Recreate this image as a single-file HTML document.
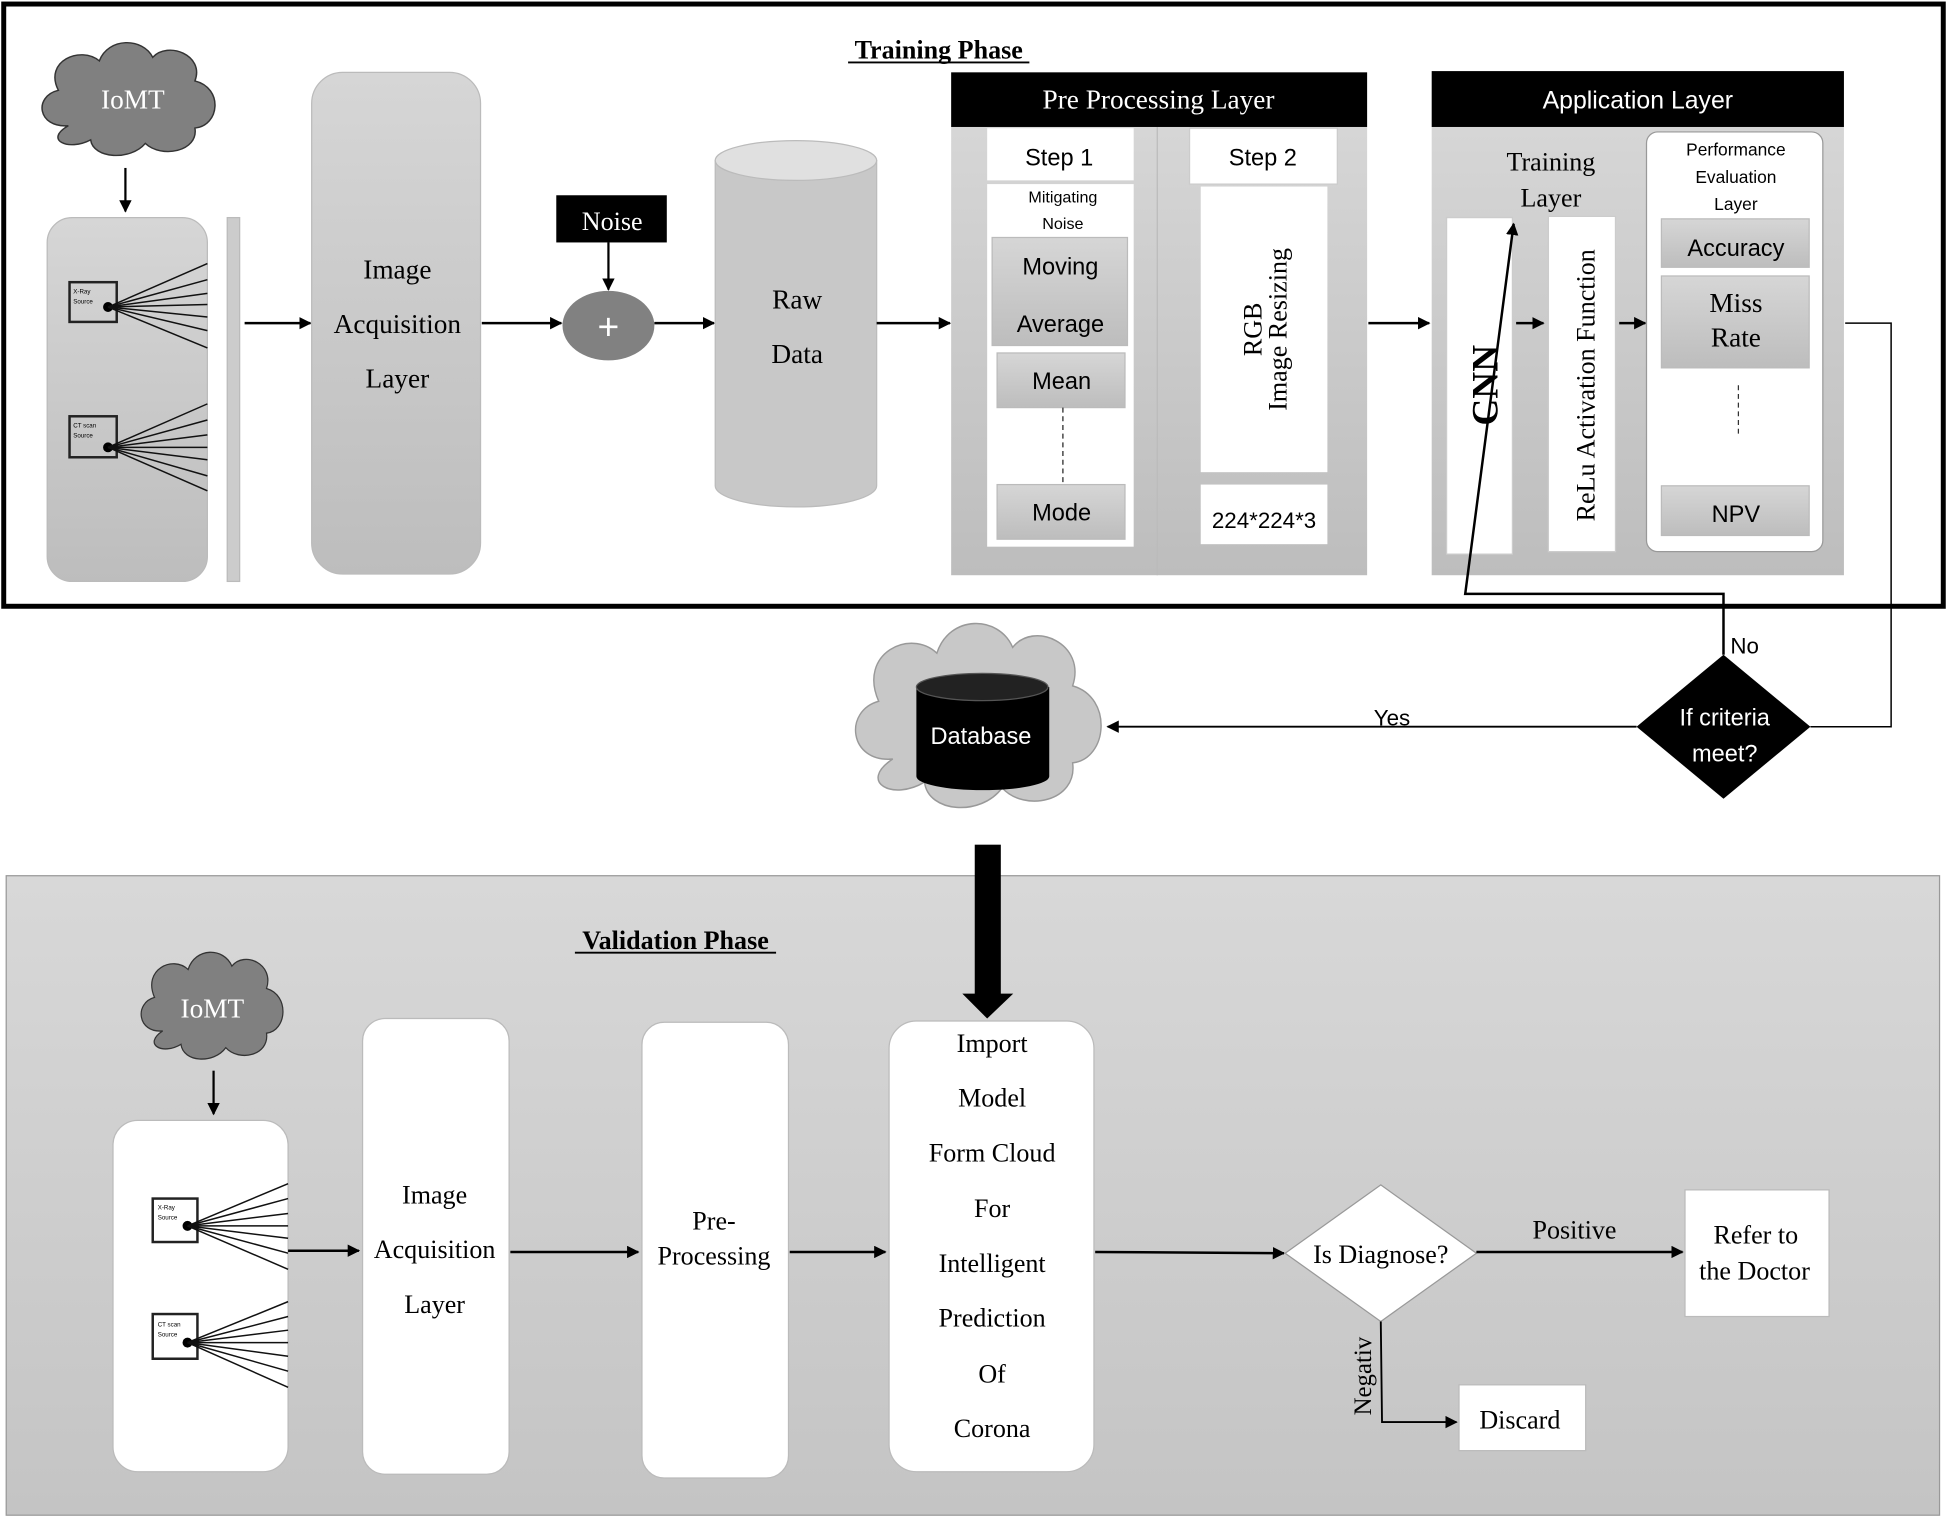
<!DOCTYPE html>
<html><head><meta charset="utf-8"><style>html,body{margin:0;padding:0;background:#fff}svg{display:block}</style></head><body>
<svg width="1947" height="1518" viewBox="0 0 1568 1222" xmlns="http://www.w3.org/2000/svg" font-family="Liberation Serif, serif">
<defs>
<linearGradient id="g" x1="0" y1="0" x2="0" y2="1"><stop offset="0" stop-color="#d6d6d6"/><stop offset="1" stop-color="#bdbdbd"/></linearGradient>
<linearGradient id="vg" x1="0" y1="0" x2="0" y2="1"><stop offset="0" stop-color="#d8d8d8"/><stop offset="1" stop-color="#c4c4c4"/></linearGradient>
<marker id="a" markerWidth="10" markerHeight="10" refX="9" refY="5" orient="auto" markerUnits="userSpaceOnUse"><path d="M0,0 L10,5 L0,10 z" fill="#000"/></marker>
<g id="cloud"><path d="M-50,20 C-75,22 -78,-5 -58,-10 C-70,-35 -40,-48 -25,-35 C-18,-55 10,-55 18,-38 C30,-52 60,-40 52,-18 C75,-12 72,20 52,22 C55,42 25,48 12,35 C0,50 -30,48 -32,32 C-50,42 -70,32 -50,20 z"/></g>
</defs>
<rect x="3" y="3" width="1562" height="485" fill="#fff" stroke="#000" stroke-width="4"/>
<text x="756" y="47" font-size="21" font-weight="bold" text-anchor="middle">Training Phase</text>
<line x1="683" y1="50" x2="829" y2="50" stroke="#000" stroke-width="1.5"/>
<use href="#cloud" transform="translate(105,82) scale(1.0,0.95)" fill="#808080" stroke="#333" stroke-width="1.2"/>
<text x="107" y="87" font-size="22" fill="#fff" text-anchor="middle">IoMT</text>
<line x1="101" y1="135" x2="101" y2="170" stroke="#000" stroke-width="1.8" marker-end="url(#a)"/>
<rect x="38" y="175" width="129" height="293" rx="20" fill="url(#g)" stroke="#bbb"/>
<rect x="56" y="227" width="38" height="32" fill="none" stroke="#222" stroke-width="2"/>
<text x="59" y="236" font-size="5" font-family="Liberation Sans,sans-serif">X-Ray</text><text x="59" y="244" font-size="5" font-family="Liberation Sans,sans-serif">Source</text>
<circle cx="87" cy="247" r="4" fill="#000"/>
<g stroke="#111" stroke-width="1.2"><line x1="87" y1="247" x2="167" y2="212"/><line x1="87" y1="247" x2="167" y2="225"/><line x1="87" y1="247" x2="167" y2="236"/><line x1="87" y1="247" x2="167" y2="245"/><line x1="87" y1="247" x2="167" y2="255"/><line x1="87" y1="247" x2="167" y2="266"/><line x1="87" y1="247" x2="167" y2="280"/></g>
<rect x="56" y="335" width="38" height="33" fill="none" stroke="#222" stroke-width="2"/>
<text x="59" y="344" font-size="5" font-family="Liberation Sans,sans-serif">CT scan</text><text x="59" y="352" font-size="5" font-family="Liberation Sans,sans-serif">Source</text>
<circle cx="87" cy="360" r="4" fill="#000"/>
<g stroke="#111" stroke-width="1.2"><line x1="87" y1="360" x2="167" y2="325"/><line x1="87" y1="360" x2="167" y2="338"/><line x1="87" y1="360" x2="167" y2="350"/><line x1="87" y1="360" x2="167" y2="360"/><line x1="87" y1="360" x2="167" y2="370"/><line x1="87" y1="360" x2="167" y2="383"/><line x1="87" y1="360" x2="167" y2="395"/></g>
<rect x="183" y="175" width="10" height="293" fill="#ccc" stroke="#bbb"/>
<line x1="197" y1="260" x2="250" y2="260" stroke="#000" stroke-width="2" marker-end="url(#a)"/>
<rect x="251" y="58" width="136" height="404" rx="25" fill="url(#g)" stroke="#bbb"/>
<g font-size="22" text-anchor="middle"><text x="320" y="224">Image</text><text x="320" y="268">Acquisition</text><text x="320" y="312">Layer</text></g>
<line x1="388" y1="260" x2="452" y2="260" stroke="#000" stroke-width="2" marker-end="url(#a)"/>
<ellipse cx="490" cy="262" rx="37" ry="28" fill="#818181"/>
<text x="490" y="273" font-size="30" fill="#fff" text-anchor="middle" font-family="Liberation Sans,sans-serif">+</text>
<rect x="448" y="157" width="89" height="38" fill="#000"/>
<text x="493" y="185" font-size="21" fill="#fff" text-anchor="middle">Noise</text>
<line x1="490" y1="195" x2="490" y2="233" stroke="#000" stroke-width="1.8" marker-end="url(#a)"/>
<line x1="527" y1="260" x2="575" y2="260" stroke="#000" stroke-width="2" marker-end="url(#a)"/>
<path d="M576,129 L576,391 A65,17 0 0 0 706,391 L706,129 z" fill="#c8c8c8" stroke="#bbb"/>
<ellipse cx="641" cy="129" rx="65" ry="16" fill="#e0e0e0" stroke="#bbb"/>
<g font-size="22" text-anchor="middle"><text x="642" y="248">Raw</text><text x="642" y="292">Data</text></g>
<line x1="706" y1="260" x2="765" y2="260" stroke="#000" stroke-width="2" marker-end="url(#a)"/>
<rect x="766" y="102" width="335" height="361" fill="url(#g)"/>
<line x1="932" y1="102" x2="932" y2="463" stroke="#bbb"/>
<rect x="766" y="58" width="335" height="44" fill="#000"/>
<text x="933" y="87" font-size="22" fill="#fff" text-anchor="middle">Pre Processing Layer</text>
<g font-family="Liberation Sans,sans-serif" text-anchor="middle">
<rect x="795" y="103" width="118" height="42" fill="#fff"/><text x="853" y="133" font-size="19">Step 1</text>
<rect x="795" y="148" width="118" height="292" fill="#fff"/>
<text x="856" y="163" font-size="13">Mitigating</text><text x="856" y="184" font-size="13">Noise</text>
<rect x="799" y="191" width="109" height="87" fill="url(#g)" stroke="#bbb"/>
<text x="854" y="221" font-size="19">Moving</text><text x="854" y="267" font-size="19">Average</text>
<rect x="803" y="284" width="103" height="44" fill="url(#g)" stroke="#bbb"/><text x="855" y="313" font-size="19">Mean</text>
<line x1="856" y1="328" x2="856" y2="388" stroke="#222" stroke-dasharray="4,3"/>
<rect x="803" y="390" width="103" height="44" fill="url(#g)" stroke="#bbb"/><text x="855" y="419" font-size="19">Mode</text>
<rect x="958" y="103" width="119" height="45" fill="#fff" stroke="#ccc"/><text x="1017" y="133" font-size="19">Step 2</text>
<rect x="967" y="150" width="102" height="230" fill="#fff"/>
<rect x="967" y="390" width="102" height="48" fill="#fff"/><text x="1018" y="425" font-size="18">224*224*3</text>
</g>
<g transform="translate(1016,265) rotate(-90)" text-anchor="middle" font-size="21"><text x="0" y="0">RGB</text><text x="0" y="20">Image Resizing</text></g>
<line x1="1102" y1="260" x2="1151" y2="260" stroke="#000" stroke-width="2" marker-end="url(#a)"/>
<rect x="1153" y="102" width="332" height="361" fill="url(#g)"/>
<rect x="1153" y="57" width="332" height="45" fill="#000"/>
<text x="1319" y="87" font-size="20" fill="#fff" text-anchor="middle" font-family="Liberation Sans,sans-serif">Application Layer</text>
<g font-size="21" text-anchor="middle"><text x="1249" y="137">Training</text><text x="1249" y="166">Layer</text></g>
<rect x="1165" y="175" width="53" height="271" fill="#fff" stroke="#ccc"/>
<text transform="translate(1206,310) rotate(-90)" font-size="30" font-weight="bold" text-anchor="middle">CNN</text>
<rect x="1247" y="174" width="54" height="270" fill="#fff" stroke="#ccc"/>
<text transform="translate(1284,310) rotate(-90)" font-size="21" text-anchor="middle">ReLu Activation Function</text>
<line x1="1221" y1="260" x2="1243" y2="260" stroke="#000" stroke-width="2" marker-end="url(#a)"/>
<line x1="1304" y1="260" x2="1325" y2="260" stroke="#000" stroke-width="2" marker-end="url(#a)"/>
<rect x="1326" y="106" width="142" height="338" rx="9" fill="#fff" stroke="#999"/>
<g font-family="Liberation Sans,sans-serif" text-anchor="middle" font-size="14"><text x="1398" y="125">Performance</text><text x="1398" y="147">Evaluation</text><text x="1398" y="169">Layer</text></g>
<rect x="1338" y="176" width="119" height="39" fill="url(#g)" stroke="#bbb"/><text x="1398" y="206" font-size="19" text-anchor="middle" font-family="Liberation Sans,sans-serif">Accuracy</text>
<rect x="1338" y="222" width="119" height="74" fill="url(#g)" stroke="#bbb"/>
<g font-size="22" text-anchor="middle"><text x="1398" y="251">Miss</text><text x="1398" y="279">Rate</text></g>
<line x1="1400" y1="310" x2="1400" y2="350" stroke="#333" stroke-dasharray="4,3"/>
<rect x="1338" y="391" width="119" height="40" fill="url(#g)" stroke="#bbb"/><text x="1398" y="420" font-size="19" text-anchor="middle" font-family="Liberation Sans,sans-serif">NPV</text>
<polyline points="1486,260 1523,260 1523,585 1458,585" fill="none" stroke="#000" stroke-width="1.2"/>
<polyline points="1388,527 1388,478 1180,478 1219,180" fill="none" stroke="#000" stroke-width="2" marker-end="url(#a)"/>
<text x="1405" y="526" font-size="18" text-anchor="middle" font-family="Liberation Sans,sans-serif">No</text>
<polygon points="1388,527 1458,585 1388,643 1318,585" fill="#000"/>
<g font-family="Liberation Sans,sans-serif" fill="#fff" font-size="19" text-anchor="middle"><text x="1389" y="584">If criteria</text><text x="1389" y="613">meet?</text></g>
<line x1="1318" y1="585" x2="892" y2="585" stroke="#000" stroke-width="1.5" marker-end="url(#a)"/>
<text x="1121" y="584" font-size="18" text-anchor="middle" font-family="Liberation Sans,sans-serif">Yes</text>
<use href="#cloud" transform="translate(790,580) scale(1.42,1.55)" fill="#c8c8c8" stroke="#999" stroke-width="0.8"/>
<path d="M738,553 L738,625 A53,11 0 0 0 845,625 L845,553 z" fill="#000"/>
<ellipse cx="791" cy="553" rx="53" ry="11" fill="#222" stroke="#555"/>
<text x="790" y="599" font-size="19" fill="#fff" text-anchor="middle" font-family="Liberation Sans,sans-serif">Database</text>
<rect x="5" y="705" width="1557" height="515" fill="url(#vg)" stroke="#999"/>
<rect x="785" y="680" width="21" height="122" fill="#000"/>
<polygon points="775,800 816,800 795,820" fill="#000"/>
<text x="544" y="764" font-size="21" font-weight="bold" text-anchor="middle">Validation Phase</text>
<line x1="463" y1="767" x2="625" y2="767" stroke="#000" stroke-width="1.5"/>
<use href="#cloud" transform="translate(172,812) scale(0.82,0.9)" fill="#808080" stroke="#333" stroke-width="1.2"/>
<text x="171" y="819" font-size="22" fill="#fff" text-anchor="middle">IoMT</text>
<line x1="172" y1="862" x2="172" y2="897" stroke="#000" stroke-width="1.8" marker-end="url(#a)"/>
<rect x="91" y="902" width="141" height="283" rx="20" fill="#fff" stroke="#bbb"/>
<rect x="123" y="965" width="36" height="35" fill="none" stroke="#222" stroke-width="2"/>
<text x="127" y="974" font-size="5" font-family="Liberation Sans,sans-serif">X-Ray</text><text x="127" y="982" font-size="5" font-family="Liberation Sans,sans-serif">Source</text>
<circle cx="151" cy="987" r="4" fill="#000"/>
<g stroke="#111" stroke-width="1.2"><line x1="151" y1="987" x2="232" y2="953"/><line x1="151" y1="987" x2="232" y2="965"/><line x1="151" y1="987" x2="232" y2="977"/><line x1="151" y1="987" x2="232" y2="987"/><line x1="151" y1="987" x2="232" y2="997"/><line x1="151" y1="987" x2="232" y2="1009"/><line x1="151" y1="987" x2="232" y2="1022"/></g>
<rect x="123" y="1058" width="36" height="36" fill="none" stroke="#222" stroke-width="2"/>
<text x="127" y="1068" font-size="5" font-family="Liberation Sans,sans-serif">CT scan</text><text x="127" y="1076" font-size="5" font-family="Liberation Sans,sans-serif">Source</text>
<circle cx="151" cy="1081" r="4" fill="#000"/>
<g stroke="#111" stroke-width="1.2"><line x1="151" y1="1081" x2="232" y2="1048"/><line x1="151" y1="1081" x2="232" y2="1060"/><line x1="151" y1="1081" x2="232" y2="1071"/><line x1="151" y1="1081" x2="232" y2="1081"/><line x1="151" y1="1081" x2="232" y2="1092"/><line x1="151" y1="1081" x2="232" y2="1104"/><line x1="151" y1="1081" x2="232" y2="1117"/></g>
<line x1="232" y1="1007" x2="289" y2="1007" stroke="#000" stroke-width="2" marker-end="url(#a)"/>
<rect x="292" y="820" width="118" height="367" rx="18" fill="#fff" stroke="#bbb"/>
<g font-size="21" text-anchor="middle"><text x="350" y="969">Image</text><text x="350" y="1013">Acquisition</text><text x="350" y="1057">Layer</text></g>
<line x1="411" y1="1008" x2="514" y2="1008" stroke="#000" stroke-width="2" marker-end="url(#a)"/>
<rect x="517" y="823" width="118" height="367" rx="18" fill="#fff" stroke="#bbb"/>
<g font-size="21" text-anchor="middle"><text x="575" y="990">Pre-</text><text x="575" y="1018">Processing</text></g>
<line x1="636" y1="1008" x2="713" y2="1008" stroke="#000" stroke-width="2" marker-end="url(#a)"/>
<rect x="716" y="822" width="165" height="363" rx="22" fill="#fff" stroke="#bbb"/>
<g font-size="21" text-anchor="middle"><text x="799" y="847">Import</text><text x="799" y="891">Model</text><text x="799" y="935">Form Cloud</text><text x="799" y="980">For</text><text x="799" y="1024">Intelligent</text><text x="799" y="1068">Prediction</text><text x="799" y="1113">Of</text><text x="799" y="1157">Corona</text></g>
<line x1="882" y1="1008" x2="1034" y2="1009" stroke="#000" stroke-width="2" marker-end="url(#a)"/>
<polygon points="1112,954 1189,1009 1112,1064 1035,1009" fill="#fff" stroke="#999"/>
<text x="1112" y="1017" font-size="21" text-anchor="middle">Is Diagnose?</text>
<line x1="1189" y1="1008" x2="1355" y2="1008" stroke="#000" stroke-width="2" marker-end="url(#a)"/>
<text x="1268" y="997" font-size="21" text-anchor="middle">Positive</text>
<rect x="1357" y="958" width="116" height="102" fill="#fff" stroke="#bbb"/>
<g font-size="21" text-anchor="middle"><text x="1414" y="1001">Refer to</text><text x="1413" y="1030">the Doctor</text></g>
<polyline points="1112,1064 1113,1145 1173,1145" fill="none" stroke="#000" stroke-width="1.5" marker-end="url(#a)"/>
<text transform="translate(1104,1108) rotate(-90)" font-size="20" text-anchor="middle">Negativ</text>
<rect x="1175" y="1115" width="102" height="53" fill="#fff" stroke="#bbb"/>
<text x="1224" y="1150" font-size="21" text-anchor="middle">Discard</text>
</svg>
</body></html>
